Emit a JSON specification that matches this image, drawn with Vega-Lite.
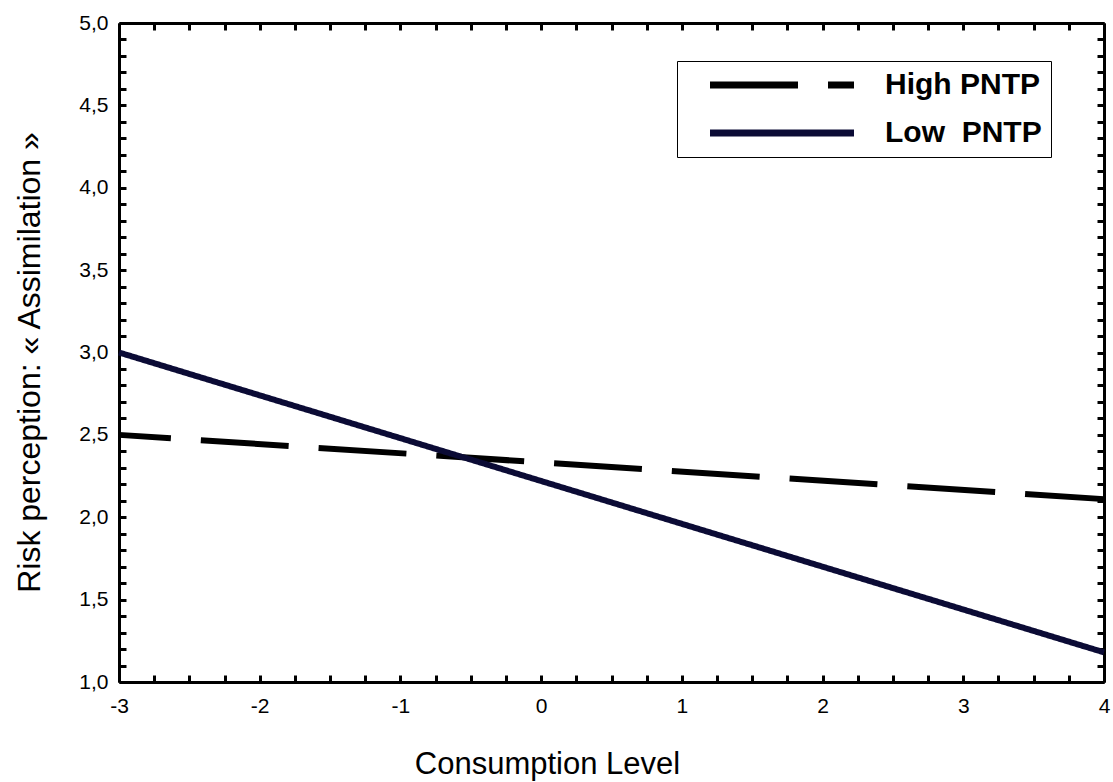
{
  "$schema": "https://vega.github.io/schema/vega-lite/v6.json",
  "autosize": {"type": "none"},
  "padding": {"left": 119, "top": 23, "right": 9, "bottom": 100},
  "width": 985,
  "height": 659,
  "background": "white",
  "config": {"view": {"stroke": null}, "font": "Liberation Sans"},
  "data": {
    "values": [
      {"level": -3, "risk": 2.5, "group": "High PNTP"},
      {"level": 4, "risk": 2.11, "group": "High PNTP"},
      {"level": -3, "risk": 3.0, "group": "Low PNTP"},
      {"level": 4, "risk": 1.18, "group": "Low PNTP"}
    ]
  },
  "layer": [
    {
      "mark": {"type": "line", "strokeWidth": 6, "strokeDashOffset": 36, "strokeCap": "butt"},
      "encoding": {
        "x": {
          "field": "level", "type": "quantitative",
          "scale": {"domain": [-3, 4], "nice": false, "zero": false},
          "axis": {
            "orient": "bottom",
            "values": [-3, -2.75, -2.5, -2.25, -2, -1.75, -1.5, -1.25, -1, -0.75, -0.5, -0.25, 0, 0.25, 0.5, 0.75, 1, 1.25, 1.5, 1.75, 2, 2.25, 2.5, 2.75, 3, 3.25, 3.5, 3.75, 4],
            "labelExpr": "abs(datum.value - round(datum.value)) < 0.001 ? '' + round(datum.value) : ''",
            "tickSize": -7, "tickWidth": 3, "tickColor": "black",
            "domainWidth": 3, "domainColor": "black",
            "labelFont": "Liberation Sans", "labelFontSize": 21, "labelColor": "black", "labelPadding": 20,
            "labelFlush": false, "labelOverlap": false, "grid": false,
            "title": "Consumption Level", "titleFontSize": 31, "titleFontWeight": "normal", "titleColor": "black",
            "titleX": 428, "titleY": 91, "titleBaseline": "alphabetic", "titleAlign": "center"
          }
        },
        "y": {
          "field": "risk", "type": "quantitative",
          "scale": {"domain": [1, 5], "nice": false, "zero": false},
          "axis": {
            "orient": "left",
            "values": [1, 1.1, 1.2, 1.3, 1.4, 1.5, 1.6, 1.7, 1.8, 1.9, 2, 2.1, 2.2, 2.3, 2.4, 2.5, 2.6, 2.7, 2.8, 2.9, 3, 3.1, 3.2, 3.3, 3.4, 3.5, 3.6, 3.7, 3.8, 3.9, 4, 4.1, 4.2, 4.3, 4.4, 4.5, 4.6, 4.7, 4.8, 4.9, 5],
            "labelExpr": "abs(datum.value * 2 - round(datum.value * 2)) < 0.001 ? replace(format(datum.value, '.1f'), '.', ',') : ''",
            "tickSize": -7, "tickWidth": 3, "tickColor": "black",
            "domainWidth": 3, "domainColor": "black",
            "labelFont": "Liberation Sans", "labelFontSize": 21, "labelColor": "black", "labelPadding": 18,
            "labelFlush": false, "labelOverlap": false, "grid": false,
            "title": "Risk perception: « Assimilation »", "titleFontSize": 32, "titleFontWeight": "normal", "titleColor": "black",
            "titleX": -80, "titleY": 339, "titleAngle": 270, "titleBaseline": "alphabetic", "titleAlign": "center"
          }
        },
        "color": {
          "field": "group", "type": "nominal",
          "scale": {"domain": ["High PNTP", "Low PNTP"], "range": ["#000000", "#0b0b35"]},
          "legend": {
            "orient": "none", "legendX": 558, "legendY": 38, "title": null,
            "strokeColor": "black", "padding": 9,
            "symbolType": "M-9,0H9", "symbolSize": 256, "symbolStrokeWidth": 7, "symbolStrokeColor": "black",
            "symbolOffset": 81, "rowPadding": 18,
            "labelFontSize": 30, "labelFontWeight": "bold", "labelColor": "black", "labelOffset": 88, "labelLimit": 400,
            "labelExpr": "datum.value === 'Low PNTP' ? 'Low\u00a0\u00a0PNTP\u00a0\u00a0\u00a0\u00a0' : datum.label + '\u00a0\u00a0\u00a0\u00a0'"
          }
        },
        "strokeDash": {
          "field": "group", "type": "nominal",
          "scale": {"domain": ["High PNTP", "Low PNTP"], "range": [[88, 30], [1, 0]]},
          "legend": null
        }
      }
    },
    {
      "mark": {"type": "line", "opacity": 0},
      "encoding": {
        "x": {
          "field": "level", "type": "quantitative",
          "scale": {"domain": [-3, 4], "nice": false, "zero": false},
          "axis": {
            "orient": "top",
            "values": [-3, -2.75, -2.5, -2.25, -2, -1.75, -1.5, -1.25, -1, -0.75, -0.5, -0.25, 0, 0.25, 0.5, 0.75, 1, 1.25, 1.5, 1.75, 2, 2.25, 2.5, 2.75, 3, 3.25, 3.5, 3.75, 4],
            "labels": false, "title": null,
            "tickSize": -7, "tickWidth": 3, "tickColor": "black",
            "domainWidth": 3, "domainColor": "black", "grid": false
          }
        },
        "y": {
          "field": "risk", "type": "quantitative",
          "scale": {"domain": [1, 5], "nice": false, "zero": false},
          "axis": {
            "orient": "right",
            "values": [1, 1.1, 1.2, 1.3, 1.4, 1.5, 1.6, 1.7, 1.8, 1.9, 2, 2.1, 2.2, 2.3, 2.4, 2.5, 2.6, 2.7, 2.8, 2.9, 3, 3.1, 3.2, 3.3, 3.4, 3.5, 3.6, 3.7, 3.8, 3.9, 4, 4.1, 4.2, 4.3, 4.4, 4.5, 4.6, 4.7, 4.8, 4.9, 5],
            "labels": false, "title": null,
            "tickSize": -7, "tickWidth": 3, "tickColor": "black",
            "domainWidth": 3, "domainColor": "black", "grid": false
          }
        },
        "detail": {"field": "group", "type": "nominal"}
      }
    }
  ],
  "resolve": {"axis": {"x": "independent", "y": "independent"}}
}
